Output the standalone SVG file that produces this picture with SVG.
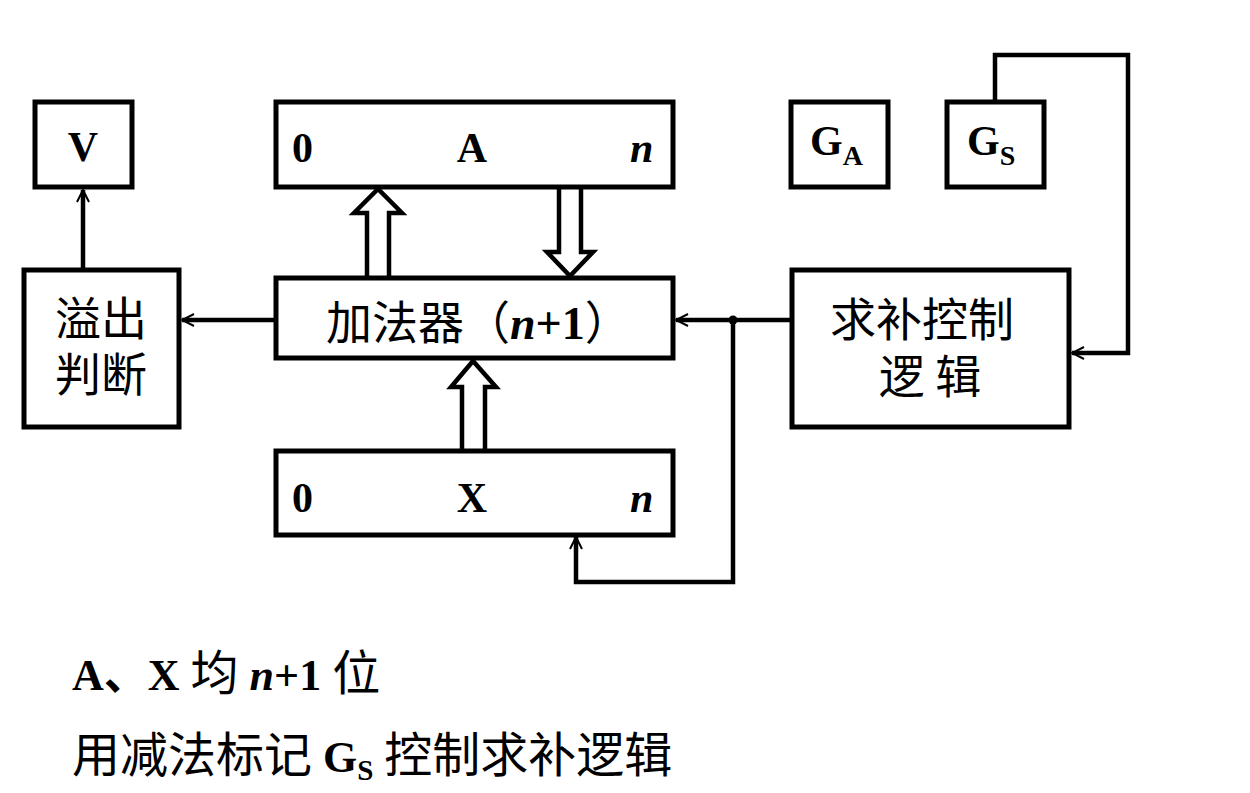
<svg xmlns="http://www.w3.org/2000/svg" width="1250" height="793" viewBox="0 0 1250 793">
<style>
.box{fill:#fff;stroke:#000;stroke-width:5}
.ln{fill:none;stroke:#000;stroke-width:4.5}
.hol{fill:#fff;stroke:#000;stroke-width:4.5;stroke-linejoin:miter}
.t{font-family:"Liberation Serif","Noto Sans CJK SC",serif;font-size:42px;fill:#000}
.nt{font-size:44px}
.b{font-weight:bold}
.i{font-style:italic;font-weight:bold}
.cjk{font-family:"Noto Sans CJK SC","Liberation Serif",serif;font-size:46px;fill:#000}
.c{font-family:"Noto Sans CJK SC",sans-serif;font-size:48px}
</style>
<defs>
<marker id="ah" viewBox="-14 -8 16 16" refX="0" refY="0" markerWidth="16" markerHeight="16" markerUnits="userSpaceOnUse" orient="auto">
<path d="M-12,-6 L0,0 L-12,6" fill="none" stroke="#000" stroke-width="2"/>
<path d="M-6,-2 L0,0 L-6,2 Z" fill="#000"/>
</marker>
</defs>
<g id="connectors">
<path class="ln" d="M83,270 V190" marker-end="url(#ah)"/>
<path class="ln" d="M276,320 H182" marker-end="url(#ah)"/>
<path class="ln" d="M792,320 H676" marker-end="url(#ah)"/>
<circle cx="733" cy="320" r="4.5" fill="#000"/>
<path class="ln" d="M733,320 V582 H576 V537" marker-end="url(#ah)"/>
<path class="ln" d="M995,101 V55 H1128 V353 H1072" marker-end="url(#ah)"/>
<path class="hol" d="M367,278 V213 H354 L378,189 L402,213 H389 V278"/>
<path class="hol" d="M559,187 V252 H547 L570,276 L593,252 H581 V187"/>
<path class="hol" d="M462,450 V387 H451 L473,361 L496,387 H485 V450"/>
</g>
<g id="V"><rect class="box" x="35" y="102" width="97" height="85"/><text class="t b" x="83" y="161" text-anchor="middle">V</text></g>
<g id="A"><rect class="box" x="276" y="102" width="397" height="85"/>
<text class="t b" x="292" y="162">0</text><text class="t b" x="472" y="162" text-anchor="middle">A</text><text class="t i" x="630" y="162">n</text></g>
<g id="GA"><rect class="box" x="791" y="102" width="97" height="85"/><text class="t b" x="810" y="155">G<tspan font-size="28" dy="10">A</tspan></text></g>
<g id="GS"><rect class="box" x="947" y="102" width="97" height="85"/><text class="t b" x="967" y="155">G<tspan font-size="28" dy="10">S</tspan></text></g>
<g id="overflow"><rect class="box" x="24" y="270" width="155" height="157"/>
<text class="cjk" x="101" y="335" text-anchor="middle">溢出</text><text class="cjk" x="101" y="391" text-anchor="middle">判断</text></g>
<g id="adder"><rect class="box" x="276" y="278" width="397" height="80"/>
<text class="cjk" x="326" y="339" font-size="48">加法器（<tspan class="i" font-family="Liberation Serif" font-size="46">n</tspan><tspan class="b" font-family="Liberation Serif" font-size="46">+1</tspan>）</text></g>
<g id="comp"><rect class="box" x="792" y="270" width="277" height="157"/>
<text class="cjk" x="922" y="336" text-anchor="middle">求补控制</text><text class="cjk" x="930" y="393" text-anchor="middle">逻 辑</text></g>
<g id="X"><rect class="box" x="276" y="451" width="397" height="84"/>
<text class="t b" x="292" y="512">0</text><text class="t b" x="472" y="512" text-anchor="middle">X</text><text class="t i" x="630" y="512">n</text></g>
<g id="notes">
<text class="t nt" x="72" y="690"><tspan class="b">A、X </tspan><tspan class="c">均</tspan><tspan class="i"> n</tspan><tspan class="b">+1 </tspan><tspan class="c">位</tspan></text>
<text class="t nt" x="72" y="772"><tspan class="c">用减法标记</tspan><tspan class="b"> G</tspan><tspan class="b" font-size="29" dy="8">S</tspan><tspan dy="-8" class="c"> 控制求补逻辑</tspan></text>
</g>
</svg>
